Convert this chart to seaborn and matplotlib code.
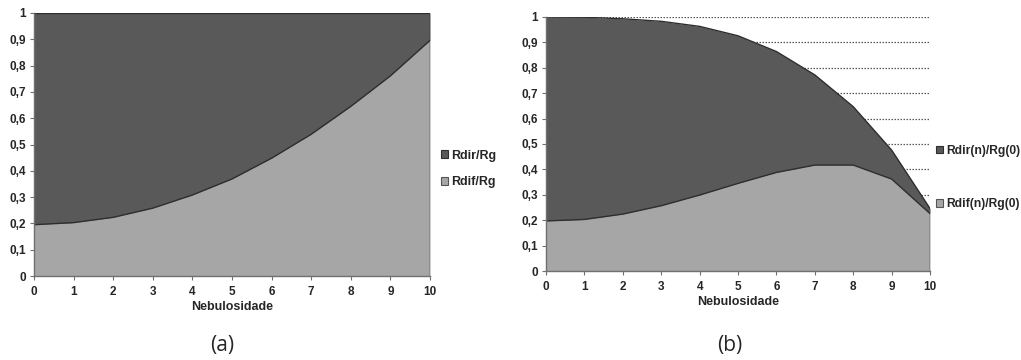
import numpy as np
import pandas as pd
import matplotlib
matplotlib.use("Agg")
import matplotlib.pyplot as plt
import seaborn as sns
from matplotlib.patches import Patch

# ---- data ----
nebulosidade = list(range(0, 11))
a_dif = [0.195, 0.203, 0.223, 0.258, 0.308, 0.369, 0.448, 0.539, 0.645, 0.761, 0.896]
a_dir = [0.805, 0.797, 0.777, 0.742, 0.692, 0.631, 0.552, 0.461, 0.355, 0.239, 0.104]
b_dif = [0.197, 0.203, 0.224, 0.257, 0.299, 0.345, 0.388, 0.417, 0.417, 0.362, 0.226]
b_dir = [0.803, 0.796, 0.769, 0.726, 0.664, 0.581, 0.476, 0.355, 0.230, 0.114, 0.020]
a_labels = ["Rdir/Rg", "Rdif/Rg"]
b_labels = ["Rdir(n)/Rg(0)", "Rdif(n)/Rg(0)"]
y_ticks = [0, 0.1, 0.2, 0.3, 0.4, 0.5, 0.6, 0.7, 0.8, 0.9, 1.0]
y_ticklabels = ["0", "0,1", "0,2", "0,3", "0,4", "0,5", "0,6", "0,7", "0,8", "0,9", "1"]
panel_titles = ["(a)", "(b)"]

sns.set_theme(style="white")
plt.rcParams["font.family"] = ["Liberation Sans", "DejaVu Sans"]

DARK = "#595959"
LIGHT = "#a6a6a6"
EDGE = "#2e2e2e"

fig = plt.figure(figsize=(10.21, 3.6), dpi=100)
ax_a = fig.add_axes([0.0333, 0.2333, 0.3879, 0.7306])
ax_b = fig.add_axes([0.5348, 0.2472, 0.3761, 0.7056])


def draw(ax, dif, dirr, labels, legend_anchor, spacing, legsize):
    df = pd.DataFrame({"n": nebulosidade, "dif": dif, "dir": dirr})
    df["top"] = np.cumsum(df[["dif", "dir"]].values, axis=1)[:, 1]
    # gridlines (dotted), behind the areas
    for yv in y_ticks[1:]:
        ax.axhline(yv, xmin=0, xmax=1, color="#555555", lw=0.9,
                   ls=(0, (1.2, 1.2)), zorder=0.5)
    ax.fill_between(df["n"], 0, df["dif"], color=LIGHT, zorder=1, lw=0)
    ax.fill_between(df["n"], df["dif"], df["top"], color=DARK, zorder=1, lw=0)
    sns.lineplot(data=df, x="n", y="dif", ax=ax, color=EDGE, lw=1.0, zorder=2)
    sns.lineplot(data=df, x="n", y="top", ax=ax, color=EDGE, lw=1.0, zorder=2)
    ax.plot([10, 10], [0, df["top"].iloc[-1]], color=EDGE, lw=1.0, zorder=2)
    ax.set_xlim(0, 10)
    ax.set_ylim(0, 1)
    ax.set_xticks(nebulosidade)
    ax.set_xticklabels([str(v) for v in nebulosidade], fontsize=8.5, fontweight="bold")
    ax.set_yticks(y_ticks)
    ax.set_yticklabels(y_ticklabels, fontsize=8.5, fontweight="bold")
    ax.set_xlabel("Nebulosidade", fontsize=9, fontweight="bold", labelpad=2)
    ax.set_ylabel("")
    ax.set_facecolor("white")
    for s in ["top", "right"]:
        ax.spines[s].set_visible(False)
    for s in ["left", "bottom"]:
        ax.spines[s].set_color("#707070")
        ax.spines[s].set_linewidth(1.0)
    ax.tick_params(axis="x", pad=4)
    ax.tick_params(axis="y", pad=3)
    ax.tick_params(axis="both", which="both", direction="out", length=3,
                   width=0.8, color="#707070", left=True, bottom=True)
    handles = [Patch(facecolor=DARK, edgecolor=EDGE, lw=0.8),
               Patch(facecolor=LIGHT, edgecolor="#555555", lw=0.8)]
    leg = fig.legend(handles, labels, loc="center left", bbox_to_anchor=legend_anchor,
                     frameon=False, handlelength=0.6, handleheight=0.6,
                     handletextpad=0.25, labelspacing=spacing, borderaxespad=0.3,
                     prop={"size": legsize, "weight": "bold"})
    return leg


draw(ax_a, a_dif, a_dir, a_labels, (0.423, 1 - 169 / 360), 1.2, 9)
draw(ax_b, b_dif, b_dir, b_labels, (0.908, 1 - 177.5 / 360), 3.45, 8.7)

fig.text(222 / 1021, 1 - 345 / 360, panel_titles[0], ha="center", va="center", fontsize=15,
         family=["Open Sans", "DejaVu Sans"])
fig.text(730 / 1021, 1 - 345 / 360, panel_titles[1], ha="center", va="center", fontsize=15,
         family=["Open Sans", "DejaVu Sans"])

fig.savefig("out.png", dpi=100, facecolor="white")
